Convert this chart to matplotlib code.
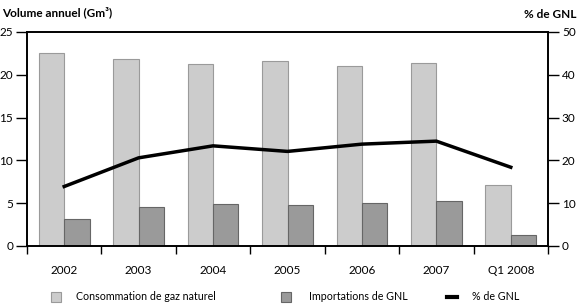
import matplotlib
matplotlib.use("Agg")
import matplotlib.pyplot as plt
import numpy as np
from matplotlib.patches import Rectangle
from matplotlib.lines import Line2D

categories = ["2002", "2003", "2004", "2005", "2006", "2007", "Q1 2008"]
consommation = [22.5, 21.8, 21.3, 21.6, 21.0, 21.4, 7.1]
importations = [3.1, 4.5, 4.9, 4.8, 5.0, 5.2, 1.3]
pct_gnl = [13.9, 20.6, 23.4, 22.1, 23.8, 24.5, 18.4]
legend_labels = ["Consommation de gaz naturel", "Importations de GNL", "% de GNL"]

plt.rcParams['font.family'] = ['Lato', 'DejaVu Sans']

W, H = 580, 306
fig = plt.figure(figsize=(5.8, 3.06), dpi=100)
ax = fig.add_axes([27/W, 1-246/H, (548-27)/W, (246-32)/H])
x = np.arange(len(categories))
w = 0.34
light, light_e = "#cccccc", "#9a9a9a"
dark, dark_e = "#9a9a9a", "#666666"
ax.bar(x - w/2, consommation, w, color=light, edgecolor=light_e, linewidth=0.8, zorder=2)
ax.bar(x + w/2, importations, w, color=dark, edgecolor=dark_e, linewidth=0.8, zorder=2)
ax.set_xlim(-0.5, len(categories) - 0.5)
ax.set_ylim(0, 25)
ax.set_yticks([0, 5, 10, 15, 20, 25])
ax.set_xticks(x)
ax.set_xticklabels(categories)
ax.set_xticks(np.arange(-0.5, len(categories)), minor=True)
ax.tick_params(axis='x', which='major', length=0, pad=14, labelsize=8.5)
ax.tick_params(axis='x', which='minor', length=6, width=1, direction='out')
ax.tick_params(axis='y', length=8, width=1, direction='out', labelsize=8.5, pad=2)
for s in ax.spines.values():
    s.set_linewidth(1.2)

ax2 = ax.twinx()
ax2.plot(x, pct_gnl, color="black", linewidth=2.5, zorder=3)
ax2.set_ylim(0, 50)
ax2.set_yticks([0, 10, 20, 30, 40, 50])
ax2.tick_params(axis='y', length=8, width=1, direction='out', labelsize=8.5, pad=2)
for s in ax2.spines.values():
    s.set_linewidth(1.2)

fig.text(2/W, 1-12/H, "Volume annuel (Gm³)", fontsize=8.5, fontweight='bold', va='center', ha='left')
fig.text(577/W, 1-14/H, "% de GNL", fontsize=8.5, fontweight='bold', va='center', ha='right')

# legend drawn manually
ly = 297
fs = 7.7
fig.add_artist(Rectangle((51/W, 1-(ly+5)/H), 10/W, 10/H, transform=fig.transFigure,
                         facecolor=light, edgecolor=light_e, linewidth=0.8))
fig.text(76/W, 1-ly/H, legend_labels[0], fontsize=fs, va='center', ha='left')
fig.add_artist(Rectangle((281/W, 1-(ly+5)/H), 10/W, 10/H, transform=fig.transFigure,
                         facecolor=dark, edgecolor=dark_e, linewidth=0.8))
fig.text(309/W, 1-ly/H, legend_labels[1], fontsize=fs, va='center', ha='left')
fig.add_artist(Line2D([447/W, 457/W], [1-ly/H, 1-ly/H], transform=fig.transFigure,
                      color="black", linewidth=3))
fig.text(472/W, 1-ly/H, legend_labels[2], fontsize=fs, va='center', ha='left')

fig.savefig("out.png", dpi=100)
